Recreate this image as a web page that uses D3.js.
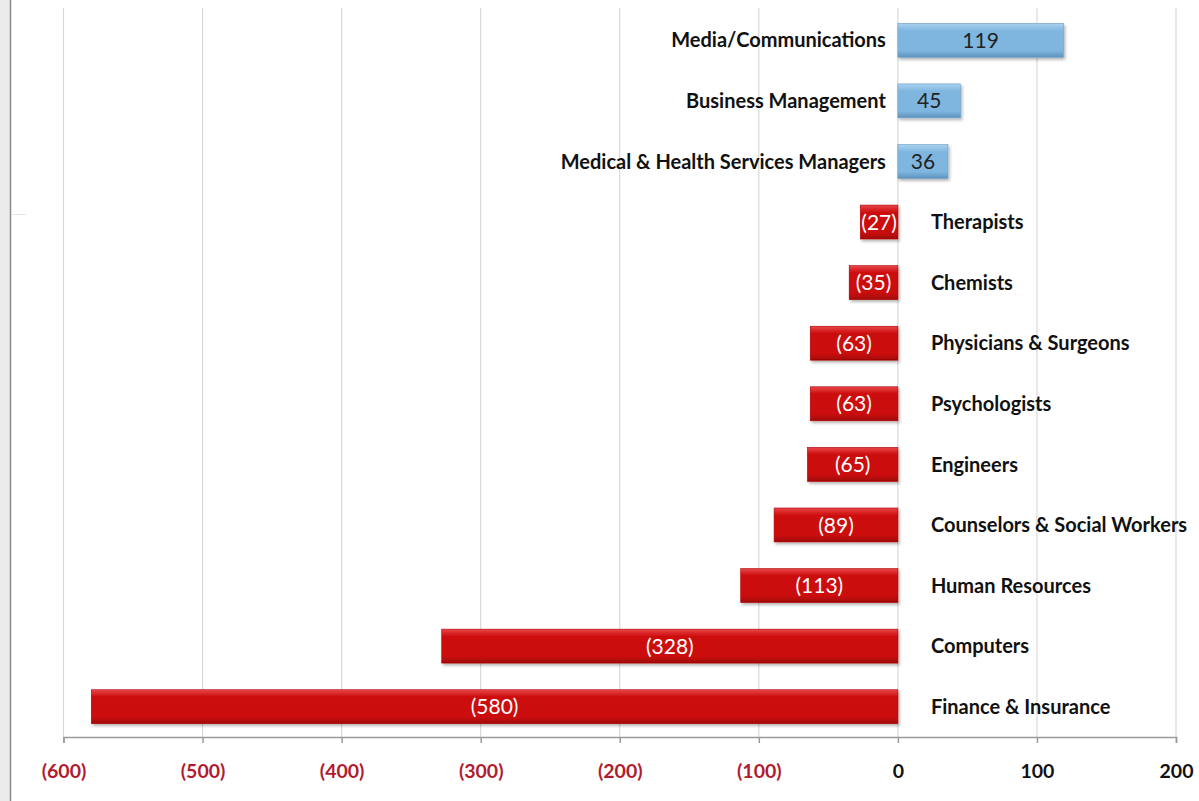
<!DOCTYPE html>
<html>
<head>
<meta charset="utf-8">
<script src="https://cdnjs.cloudflare.com/ajax/libs/d3/7.8.5/d3.min.js"></script>
<style>
  body { margin: 0; background: #fff; }
  svg { display: block; }
</style>
</head>
<body>
<div id="vis"></div>
<script>
// data
var categories = [
  "Media/Communications", "Business Management", "Medical & Health Services Managers",
  "Therapists", "Chemists", "Physicians & Surgeons", "Psychologists", "Engineers",
  "Counselors & Social Workers", "Human Resources", "Computers", "Finance & Insurance"
];
var values = [119, 45, 36, -27, -35, -63, -63, -65, -89, -113, -328, -580];
var tickValues = [-600, -500, -400, -300, -200, -100, 0, 100, 200];

var width = 1199, height = 801;
var margin = {top: 10, right: 23, bottom: 64, left: 63.5};

var svg = d3.select("#vis").append("svg")
  .attr("width", width)
  .attr("height", height);

// grey strip on the left edge
svg.append("rect").attr("x", 0).attr("y", 0).attr("width", 10).attr("height", height).attr("fill", "#ebebeb");
svg.append("line").attr("x1", 10.5).attr("x2", 10.5).attr("y1", 0).attr("y2", height)
  .attr("stroke", "#8a8a8a").attr("stroke-width", 1.5);
svg.append("line").attr("x1", 11).attr("x2", 26).attr("y1", 214.5).attr("y2", 214.5)
  .attr("stroke", "#e4e4e4");

var defs = svg.append("defs");
function bevel(id, top, mid, bot) {
  var g = defs.append("linearGradient").attr("id", id)
    .attr("x1", 0).attr("y1", 0).attr("x2", 0).attr("y2", 1);
  g.append("stop").attr("offset", "0%").attr("stop-color", top);
  g.append("stop").attr("offset", "22%").attr("stop-color", mid);
  g.append("stop").attr("offset", "80%").attr("stop-color", mid);
  g.append("stop").attr("offset", "100%").attr("stop-color", bot);
}
bevel("redGrad", "#e8474a", "#cc0a0a", "#9e0606");
bevel("blueGrad", "#a9d2ef", "#7fb6df", "#5d93bd");
var f = defs.append("filter").attr("id", "shadow").attr("x", "-5%").attr("y", "-20%")
  .attr("width", "115%").attr("height", "150%");
f.append("feDropShadow").attr("dx", 1.5).attr("dy", 2).attr("stdDeviation", 1.5)
  .attr("flood-color", "#000").attr("flood-opacity", 0.3);

var x = d3.scaleLinear().domain([-600, 200]).range([margin.left, width - margin.right]);
var y = d3.scaleBand().domain(categories).range([margin.top, height - margin.bottom])
  .paddingInner(0.44).paddingOuter(0.22);
var axisY = height - margin.bottom;

// vertical gridlines
svg.append("g").selectAll("line").data(tickValues).enter().append("line")
  .attr("x1", function (d) { return x(d); })
  .attr("x2", function (d) { return x(d); })
  .attr("y1", 8).attr("y2", axisY)
  .attr("stroke", "#d9d9d9").attr("stroke-width", 1.2);

// bars
svg.append("g").selectAll("rect").data(values).enter().append("rect")
  .attr("x", function (d) { return x(Math.min(0, d)); })
  .attr("y", function (d, i) { return y(categories[i]); })
  .attr("width", function (d) { return Math.abs(x(d) - x(0)); })
  .attr("height", y.bandwidth())
  .attr("fill", function (d) { return d < 0 ? "url(#redGrad)" : "url(#blueGrad)"; })
  .attr("stroke", function (d) { return d < 0 ? "#b00000" : "#6a9fc8"; })
  .attr("stroke-width", 0.6)
  .attr("filter", "url(#shadow)");

// value labels inside bars
svg.append("g").selectAll("text").data(values).enter().append("text")
  .attr("x", function (d) { return (x(d) + x(0)) / 2; })
  .attr("y", function (d, i) { return y(categories[i]) + y.bandwidth() / 2; })
  .attr("dy", "0.36em")
  .attr("text-anchor", "middle")
  .attr("font-family", "Lato, 'Open Sans', sans-serif")
  .attr("font-size", "21px")
  .attr("fill", function (d) { return d < 0 ? "#fff" : "#222"; })
  .text(function (d) { return d < 0 ? "(" + (-d) + ")" : d; });

// category labels on the other side of zero
svg.append("g").selectAll("text").data(values).enter().append("text")
  .attr("x", function (d) { return d < 0 ? x(0) + 33 : x(0) - 12; })
  .attr("y", function (d, i) { return y(categories[i]) + y.bandwidth() / 2; })
  .attr("dy", "0.36em")
  .attr("text-anchor", function (d) { return d < 0 ? "start" : "end"; })
  .attr("font-family", "Lato, 'Open Sans', sans-serif")
  .attr("font-weight", "bold")
  .attr("font-size", "20px")
  .attr("fill", "#111")
  .text(function (d, i) { return categories[i]; });

// x axis
var xAxis = svg.append("g")
  .attr("transform", "translate(0," + axisY + ")")
  .call(d3.axisBottom(x).tickValues(tickValues).tickSize(6).tickPadding(21)
    .tickFormat(function (d) { return d < 0 ? "(" + (-d) + ")" : d; }));
xAxis.select(".domain").attr("stroke", "#9a9a9a").attr("stroke-width", 1.5);
xAxis.selectAll(".tick line").attr("stroke", "#9a9a9a").attr("stroke-width", 1.5);
xAxis.selectAll(".tick text")
  .attr("font-family", "Lato, 'Open Sans', sans-serif")
  .attr("font-weight", "bold")
  .attr("font-size", "19.5px")
  .attr("fill", function (d) { return d < 0 ? "#b01c2e" : "#111"; });
</script>
</body>
</html>
